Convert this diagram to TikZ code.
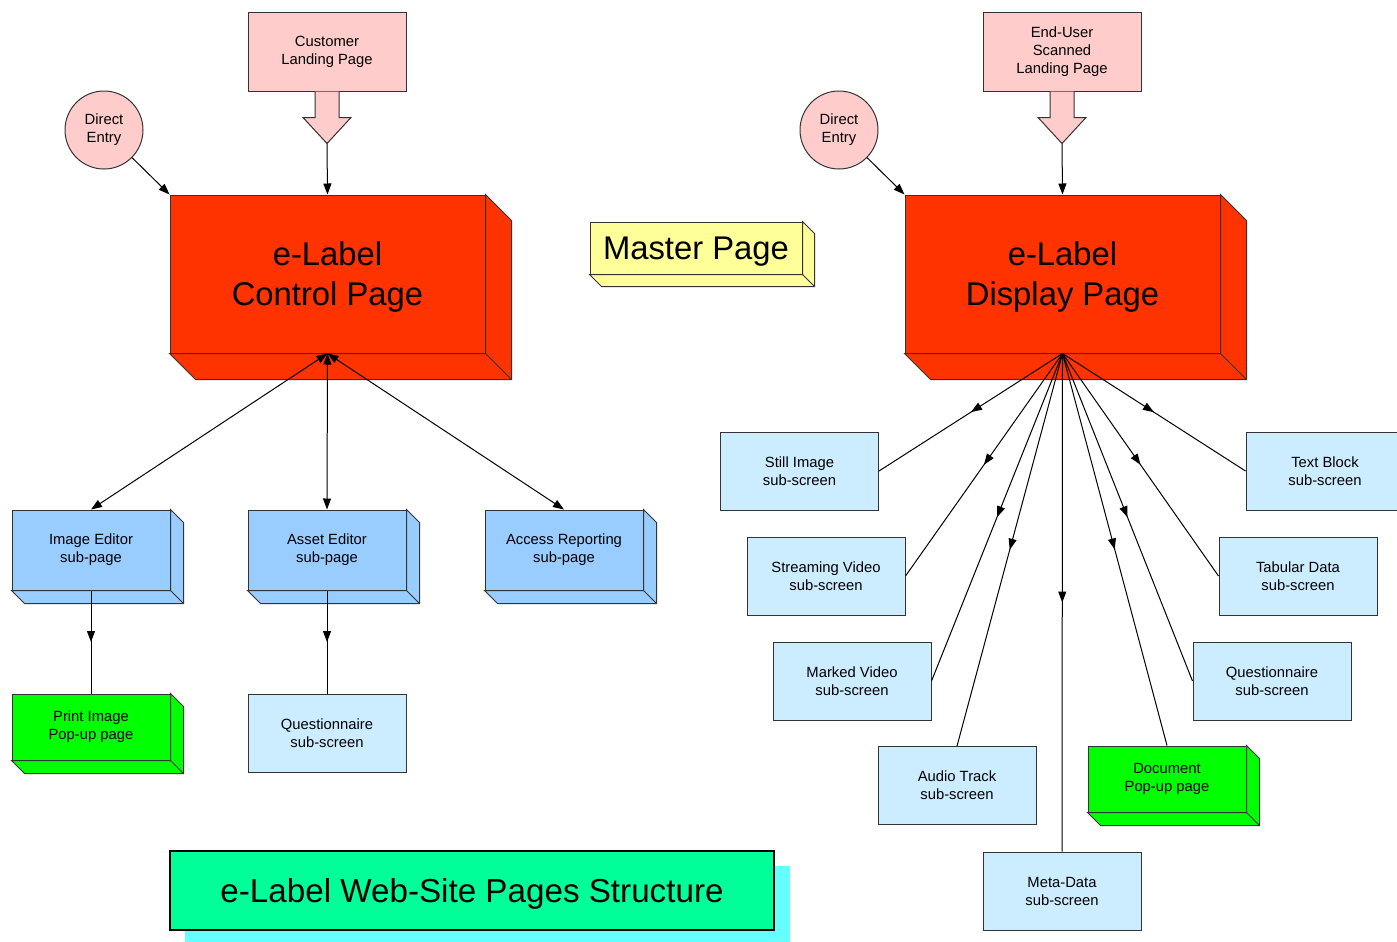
\documentclass[tikz,border=0pt]{standalone}
\usepackage{fontspec}
\setmainfont{Liberation Sans}
\usetikzlibrary{arrows.meta,calc,decorations.markings}

\definecolor{pagered}{HTML}{FF3300}
\definecolor{landpink}{HTML}{FFCCCC}
\definecolor{subblue}{HTML}{99CCFF}
\definecolor{screenblue}{HTML}{CCECFF}
\definecolor{popgreen}{HTML}{00FF00}
\definecolor{masteryellow}{HTML}{FFFF99}
\definecolor{titlegreen}{HTML}{00FF99}
\definecolor{titleshade}{HTML}{66FFFF}

\tikzset{
	screen/.style={draw=black!80, fill=screenblue, inner sep=0pt, align=center, font=\fontsize{7.4}{9}\selectfont, minimum width=79pt, minimum height=39pt},
	subpage/.style={screen, fill=subblue, minimum height=40pt},
	popup/.style={screen, fill=popgreen, minimum height=33pt},
	landing/.style={screen, fill=landpink, minimum height=39.5pt},
	entry/.style={circle, draw=black!80, fill=landpink, inner sep=0pt, minimum size=39pt, align=center, font=\fontsize{7.4}{9}\selectfont},
	mainpage/.style={draw=black!80, fill=pagered, inner sep=0pt, align=center, font=\fontsize{16.4}{20}\selectfont, text height=32pt, text depth=0.5pt, minimum width=157.5pt, minimum height=79pt},
	masterbox/.style={draw=black!80, fill=masteryellow, inner sep=0pt, font=\fontsize{16.4}{20}\selectfont, text height=11.9pt, text depth=0.4pt, minimum width=106pt, minimum height=26pt},
	titlebox/.style={draw=black, line width=1.2pt, fill=titlegreen, inner sep=0pt, font=\fontsize{16.6}{20}\selectfont, text height=12.1pt, text depth=0.5pt, minimum width=302pt, minimum height=39.5pt},
	fan/.style={postaction={decorate}, decoration={markings, mark=at position 0.5 with {\arrow{Triangle[length=5.5pt, width=4pt]}}}},
}

% bottom and right faces of a box node: \slab[style](node)(depth)
\def\slab[#1](#2)(#3){\draw[#1] (#2.south west) -- ++(#3, #3) -- ($(#2.south east)+(#3, #3)$) -- ($(#2.north east)+(#3, #3)$) -- (#2.north east) -- (#2.south east) -- cycle; \draw[#1] (#2.south east) -- ++(#3, #3);}

% block arrow under a landing page: \landarrow(node)(tip name)
\def\landarrow(#1)(#2){\draw[draw=black!80, fill=landpink] ($(#1.south)+(-12, 0)$) -- ++(0, 26) -- ++(-12, 0) -- ++(24, 26) -- ++(24, -26) -- ++(-12, 0) -- ++(0, -26); \coordinate (#2) at ($(#1.south)+(0, 52)$);}

\begin{document}
\begin{tikzpicture}[x=0.5pt, y=-0.5pt, line width=0.5pt, >={Triangle[length=5.5pt, width=4pt]}]
			%%%%% START %%%%%
			\useasboundingbox (0, 0) rectangle (1397, 942);
			
			% control side
			\node[landing] (custland) at (327, 51.5) {Customer\\Landing Page};
			\landarrow(custland)(custtip)
			\node[entry] (ctrlentry) at (104, 130) {Direct\\Entry};
			\node[mainpage] (ctrl) at (327.5, 274) {e-Label\\Control Page};
			\slab[draw=black!80, fill=pagered](ctrl)(26)
			
			\node[subpage] (imged) at (91, 550) {Image Editor\\sub-page};
			\slab[draw=black!80, fill=subblue](imged)(13)
			\node[subpage] (asseted) at (327, 550) {Asset Editor\\sub-page};
			\slab[draw=black!80, fill=subblue](asseted)(13)
			\node[subpage] (access) at (564, 550) {Access Reporting\\sub-page};
			\slab[draw=black!80, fill=subblue](access)(13)
			
			\node[popup] (printpop) at (91, 727) {Print Image\\Pop-up page};
			\slab[draw=black!80, fill=popgreen](printpop)(13)
			\node[screen] (quest1) at (327, 733) {Questionnaire\\sub-screen};
			
			\draw[->] (ctrlentry) -- (ctrl.north west);
			\draw[->] (custtip) -- (ctrl.north);
			\draw[<->] (ctrl.south) -- (imged.north);
			\draw[<->] (ctrl.south) -- (asseted.north);
			\draw[<->] (ctrl.south) -- (access.north);
			\draw[fan] (imged.south) -- (printpop.north);
			\draw[fan] (asseted.south) -- (quest1.north);
			
			% master page
			\node[masterbox] (master) at (696, 248) {Master Page};
			\slab[draw=black!80, fill=masteryellow](master)(12)
			
			% display side
			\node[landing] (userland) at (1062, 51.5) {End-User\\Scanned\\Landing Page};
			\landarrow(userland)(usertip)
			\node[entry] (dispentry) at (839, 130) {Direct\\Entry};
			\node[mainpage] (disp) at (1062.5, 274) {e-Label\\Display Page};
			\slab[draw=black!80, fill=pagered](disp)(26)
			
			\node[screen] (still) at (799.5, 471) {Still Image\\sub-screen};
			\node[screen] (stream) at (826, 576) {Streaming Video\\sub-screen};
			\node[screen] (marked) at (852, 681) {Marked Video\\sub-screen};
			\node[screen] (audio) at (957, 785.5) {Audio Track\\sub-screen};
			\node[screen] (meta) at (1062, 891) {Meta-Data\\sub-screen};
			\node[popup] (docpop) at (1167, 779) {Document\\Pop-up page};
			\slab[draw=black!80, fill=popgreen](docpop)(13)
			\node[screen] (quest2) at (1272, 681) {Questionnaire\\sub-screen};
			\node[screen] (tabular) at (1298, 576) {Tabular Data\\sub-screen};
			\node[screen] (textblk) at (1325, 471) {Text Block\\sub-screen};
			
			\draw[->] (dispentry) -- (disp.north west);
			\draw[->] (usertip) -- (disp.north);
			\draw[fan] (disp.south) -- (still.east);
			\draw[fan] (disp.south) -- (stream.east);
			\draw[fan] (disp.south) -- (marked.east);
			\draw[fan] (disp.south) -- (audio.north);
			\draw[fan] (disp.south) -- (meta.north);
			\draw[fan] (disp.south) -- (docpop.north);
			\draw[fan] (disp.south) -- (quest2.west);
			\draw[fan] (disp.south) -- (tabular.west);
			\draw[fan] (disp.south) -- (textblk.west);
			
			% title
			\fill[titleshade] (185, 866) rectangle (790, 942);
			\node[titlebox] (title) at (472, 890.5) {e-Label Web-Site Pages Structure};
			%%%%% END %%%%%
\end{tikzpicture}
\end{document}
